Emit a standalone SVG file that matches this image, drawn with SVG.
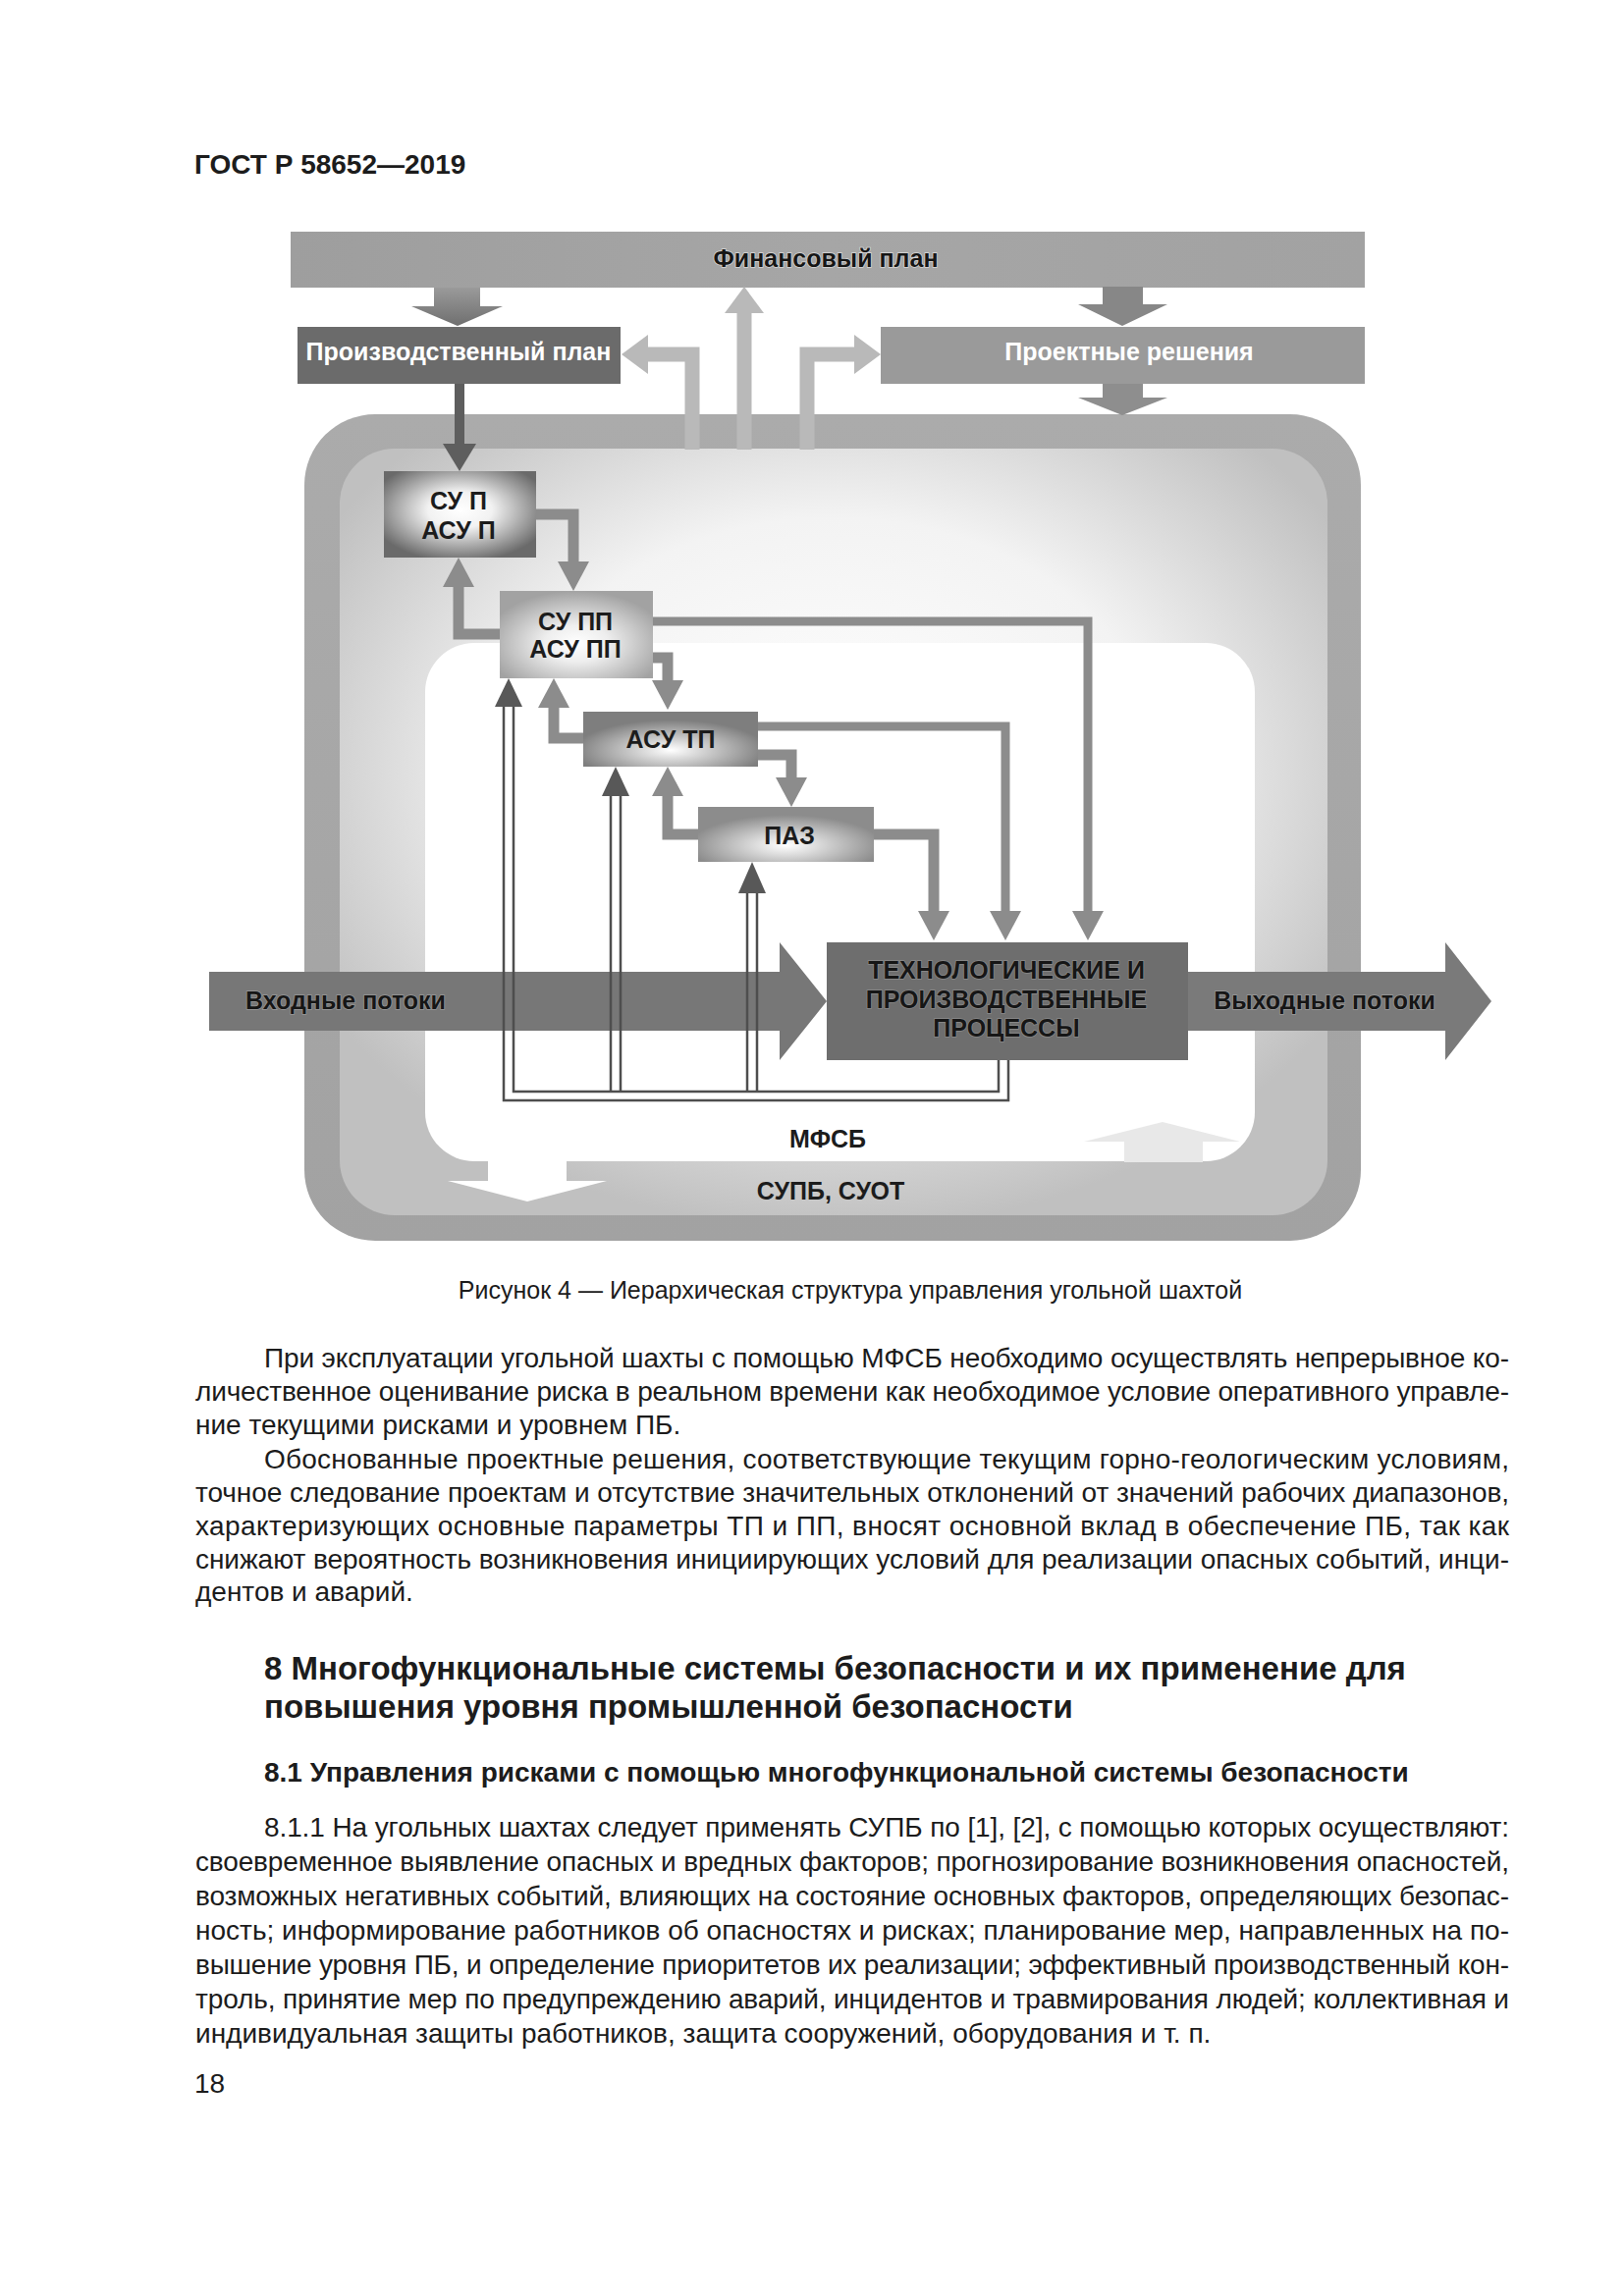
<svg xmlns="http://www.w3.org/2000/svg" width="1654" height="2339" viewBox="0 0 1654 2339">
<style>
  .t { font-family: "Liberation Sans", Arial, sans-serif; fill: #1c1c1c; }
  .hdr { font-size: 28px; font-weight: bold; }
  .lbl { font-size: 25px; font-weight: bold; text-anchor: middle; }
  .dk { fill: #161616; stroke: #d9d9d9; stroke-width: 1.5px; paint-order: stroke; }
  .wh { fill: #ffffff; }
  .cap { font-size: 25px; text-anchor: middle; }
  .body { font-size: 28px; }
  .h1 { font-size: 33px; font-weight: bold; }
  .h2 { font-size: 28px; font-weight: bold; }
  .med { fill: none; stroke: #8c8c8c; stroke-width: 11; stroke-linejoin: miter; }
  .thin { fill: none; stroke: #8c8c8c; stroke-width: 9; stroke-linejoin: miter; }
  .lite { fill: none; stroke: #b9b9b9; stroke-width: 15; stroke-linejoin: miter; }
  .dbl { fill: none; stroke: #4e4e4e; stroke-width: 2.5; }
</style>
<defs>
  <linearGradient id="gFin" x1="0" y1="0" x2="1" y2="0">
    <stop offset="0" stop-color="#9e9e9e"/>
    <stop offset="0.5" stop-color="#a6a6a6"/>
    <stop offset="1" stop-color="#a2a2a2"/>
  </linearGradient>
  <linearGradient id="gDown" x1="0" y1="0" x2="0" y2="1">
    <stop offset="0" stop-color="#9a9a9a"/>
    <stop offset="1" stop-color="#6f6f6f"/>
  </linearGradient>
  <linearGradient id="gOuter" x1="0" y1="0" x2="0" y2="1">
    <stop offset="0" stop-color="#ababab"/>
    <stop offset="1" stop-color="#a2a2a2"/>
  </linearGradient>
  <radialGradient id="gFace" cx="0.5" cy="0.42" r="0.6">
    <stop offset="0" stop-color="#ffffff"/>
    <stop offset="0.55" stop-color="#f3f3f3"/>
    <stop offset="1" stop-color="#c0c0c0"/>
  </radialGradient>
  <radialGradient id="gSuP" cx="0.5" cy="0.45" r="0.6">
    <stop offset="0" stop-color="#ffffff"/>
    <stop offset="0.35" stop-color="#f2f2f2"/>
    <stop offset="1" stop-color="#6a6a6a"/>
  </radialGradient>
  <radialGradient id="gSuPP" cx="0.5" cy="0.6" r="0.6">
    <stop offset="0" stop-color="#ffffff"/>
    <stop offset="0.35" stop-color="#eeeeee"/>
    <stop offset="1" stop-color="#a2a2a2"/>
  </radialGradient>
  <radialGradient id="gAsuTP" cx="0.5" cy="0.7" r="0.55">
    <stop offset="0" stop-color="#ffffff"/>
    <stop offset="0.3" stop-color="#d8d8d8"/>
    <stop offset="1" stop-color="#7e7e7e"/>
  </radialGradient>
  <radialGradient id="gPaz" cx="0.5" cy="0.7" r="0.55">
    <stop offset="0" stop-color="#ffffff"/>
    <stop offset="0.3" stop-color="#dedede"/>
    <stop offset="1" stop-color="#8c8c8c"/>
  </radialGradient>
  <marker id="hMed" markerUnits="userSpaceOnUse" markerWidth="32" markerHeight="34" viewBox="0 -17 32 34" refX="0" refY="0" orient="auto">
    <path d="M0,-16 L30,0 L0,16 z" fill="#8c8c8c"/>
  </marker>
  <marker id="hLite" markerUnits="userSpaceOnUse" markerWidth="30" markerHeight="42" viewBox="0 -21 30 42" refX="0" refY="0" orient="auto">
    <path d="M0,-20 L27,0 L0,20 z" fill="#b9b9b9"/>
  </marker>
</defs>

<rect width="1654" height="2339" fill="#ffffff"/>

<text class="t hdr" x="198" y="177">ГОСТ Р 58652—2019</text>

<!-- frame -->
<g id="frame">
  <rect x="310" y="422" width="1076" height="842" rx="72" fill="url(#gOuter)"/>
  <rect x="346" y="457" width="1006" height="781" rx="56" fill="url(#gFace)"/>
  <rect x="433" y="655" width="845" height="528" rx="50" fill="#ffffff"/>
</g>

<g id="fin-plan">
  <rect x="296" y="236" width="1094" height="57" fill="url(#gFin)"/>
  <text class="t lbl dk" x="841" y="272">Финансовый план</text>
</g>
<g id="prod-plan">
  <rect x="303" y="333" width="329" height="58" fill="#6b6b6b"/>
  <text class="t lbl wh" x="467" y="367">Производственный план</text>
</g>
<g id="proj">
  <rect x="897" y="333" width="493" height="58" fill="#9a9a9a"/>
  <text class="t lbl wh" x="1150" y="367">Проектные решения</text>
</g>

<g id="connectors">
  <!-- big down arrows -->
  <polygon points="442,293 489,293 489,312 512,312 466,332 419,312 442,312" fill="url(#gDown)"/>
  <polygon points="1123,292 1164,292 1164,310 1189,310 1143,332 1098,310 1123,310" fill="#878787"/>
  <polygon points="1123,391 1164,391 1164,405 1189,405 1143,423 1098,405 1123,405" fill="#8e8e8e"/>
  <!-- prod plan to SU P -->
  <path d="M468,391 V452" fill="none" stroke="#5e5e5e" stroke-width="10"/>
  <polygon points="451,452 485,452 468,480" fill="#5e5e5e"/>
  <!-- light feedback stubs -->
  <path class="lite" d="M705,458 V361 H660" marker-end="url(#hLite)"/>
  <path class="lite" d="M758,458 V319" marker-end="url(#hLite)"/>
  <path class="lite" d="M822,458 V361 H870" marker-end="url(#hLite)"/>
  <!-- medium connectors between levels -->
  <path class="med" d="M546,524 H584 V572" marker-end="url(#hMed)"/>
  <path class="med" d="M509,646 H467 V598" marker-end="url(#hMed)"/>
  <path class="med" d="M665,670 H680 V693" marker-end="url(#hMed)"/>
  <path class="med" d="M594,752 H564 V721" marker-end="url(#hMed)"/>
  <path class="med" d="M772,769 H806 V792" marker-end="url(#hMed)"/>
  <path class="med" d="M711,850 H680 V811" marker-end="url(#hMed)"/>
  <path class="med" d="M889,850 H951 V928" marker-end="url(#hMed)"/>
  <path class="thin" d="M665,633 H1108 V928" marker-end="url(#hMed)"/>
  <path class="thin" d="M772,740 H1024 V928" marker-end="url(#hMed)"/>
  <!-- input / output flows -->
  <polygon points="213,990 794,990 794,960 842,1020 794,1080 794,1050 213,1050" fill="#777777"/>
  <polygon points="1210,990 1472,990 1472,960 1519,1020 1472,1080 1472,1050 1210,1050" fill="#7a7a7a"/>
  <!-- dark feedback double lines -->
  <path class="dbl" d="M513,720 V1121 H1027 V1080"/>
  <path class="dbl" d="M523,720 V1112 H1017 V1080"/>
  <path class="dbl" d="M622,811 V1112 M632,811 V1112"/>
  <path class="dbl" d="M761,910 V1112 M771,910 V1112"/>
  <polygon points="504,720 532,720 518,691" fill="#585858"/>
  <polygon points="613,811 641,811 627,781" fill="#585858"/>
  <polygon points="752,910 780,910 766,878" fill="#585858"/>
  <!-- MFSB arrows -->
  <polygon points="497,1183 577,1183 577,1203 618,1203 537,1224 456,1203 497,1203" fill="#ffffff"/>
  <polygon points="1145,1184 1225,1184 1225,1163 1263,1163 1184,1143 1104,1163 1145,1163" fill="#e8e8e8"/>
</g>

<g id="su-p">
  <rect x="391" y="480" width="155" height="88" fill="url(#gSuP)"/>
  <text class="t lbl" x="467" y="519">СУ П</text>
  <text class="t lbl" x="467" y="549">АСУ П</text>
</g>
<g id="su-pp">
  <rect x="509" y="602" width="156" height="89" fill="url(#gSuPP)"/>
  <text class="t lbl" x="586" y="642">СУ ПП</text>
  <text class="t lbl" x="586" y="670">АСУ ПП</text>
</g>
<g id="asu-tp">
  <rect x="594" y="725" width="178" height="56" fill="url(#gAsuTP)"/>
  <text class="t lbl" x="683" y="762">АСУ ТП</text>
</g>
<g id="paz">
  <rect x="711" y="822" width="179" height="56" fill="url(#gPaz)"/>
  <text class="t lbl" x="804" y="860">ПАЗ</text>
</g>
<g id="tp">
  <rect x="842" y="960" width="368" height="120" fill="#6e6e6e"/>
  <text class="t lbl dk" x="1025" y="997" style="stroke:#8a8a8a">ТЕХНОЛОГИЧЕСКИЕ И</text>
  <text class="t lbl dk" x="1025" y="1027" style="stroke:#8a8a8a">ПРОИЗВОДСТВЕННЫЕ</text>
  <text class="t lbl dk" x="1025" y="1056" style="stroke:#8a8a8a">ПРОЦЕССЫ</text>
</g>
<g id="in-flow">
  <text class="t lbl dk" x="352" y="1028" style="stroke:#999">Входные потоки</text>
</g>
<g id="out-flow">
  <text class="t lbl dk" x="1349" y="1028" style="stroke:#999">Выходные потоки</text>
</g>
<g id="mfsb">
  <text class="t lbl" x="843" y="1169">МФСБ</text>
</g>
<g id="supb">
  <text class="t lbl" x="846" y="1222">СУПБ, СУОТ</text>
</g>

<text class="t cap" x="866" y="1323">Рисунок 4 — Иерархическая структура управления угольной шахтой</text>

<g class="t body">
  <text x="269" y="1393" textLength="1268" lengthAdjust="spacing">При эксплуатации угольной шахты с помощью МФСБ необходимо осуществлять непрерывное ко-</text>
  <text x="199" y="1427" textLength="1338" lengthAdjust="spacing">личественное оценивание риска в реальном времени как необходимое условие оперативного управле-</text>
  <text x="199" y="1461">ние текущими рисками и уровнем ПБ.</text>
  <text x="269" y="1496" textLength="1268" lengthAdjust="spacing">Обоснованные проектные решения, соответствующие текущим горно-геологическим условиям,</text>
  <text x="199" y="1530" textLength="1338" lengthAdjust="spacing">точное следование проектам и отсутствие значительных отклонений от значений рабочих диапазонов,</text>
  <text x="199" y="1564" textLength="1338" lengthAdjust="spacing">характеризующих основные параметры ТП и ПП, вносят основной вклад в обеспечение ПБ, так как</text>
  <text x="199" y="1598" textLength="1338" lengthAdjust="spacing">снижают вероятность возникновения инициирующих условий для реализации опасных событий, инци-</text>
  <text x="199" y="1631">дентов и аварий.</text>
</g>

<text class="t h1" x="269" y="1711">8  Многофункциональные системы безопасности и их применение для</text>
<text class="t h1" x="269" y="1750">повышения уровня промышленной безопасности</text>
<text class="t h2" x="269" y="1815">8.1  Управления рисками с помощью многофункциональной системы безопасности</text>

<g class="t body">
  <text x="269" y="1871" textLength="1268" lengthAdjust="spacing">8.1.1  На угольных шахтах следует применять СУПБ по [1], [2], с помощью которых осуществляют:</text>
  <text x="199" y="1906" textLength="1338" lengthAdjust="spacing">своевременное выявление опасных и вредных факторов; прогнозирование возникновения опасностей,</text>
  <text x="199" y="1941" textLength="1338" lengthAdjust="spacing">возможных негативных событий, влияющих на состояние основных факторов, определяющих безопас-</text>
  <text x="199" y="1976" textLength="1338" lengthAdjust="spacing">ность; информирование работников об опасностях и рисках; планирование мер, направленных на по-</text>
  <text x="199" y="2011" textLength="1338" lengthAdjust="spacing">вышение уровня ПБ, и определение приоритетов их реализации; эффективный производственный кон-</text>
  <text x="199" y="2046" textLength="1338" lengthAdjust="spacing">троль, принятие мер по предупреждению аварий, инцидентов и травмирования людей; коллективная и</text>
  <text x="199" y="2081">индивидуальная защиты работников, защита сооружений, оборудования и т. п.</text>
</g>

<text class="t body" x="198" y="2132">18</text>
</svg>
